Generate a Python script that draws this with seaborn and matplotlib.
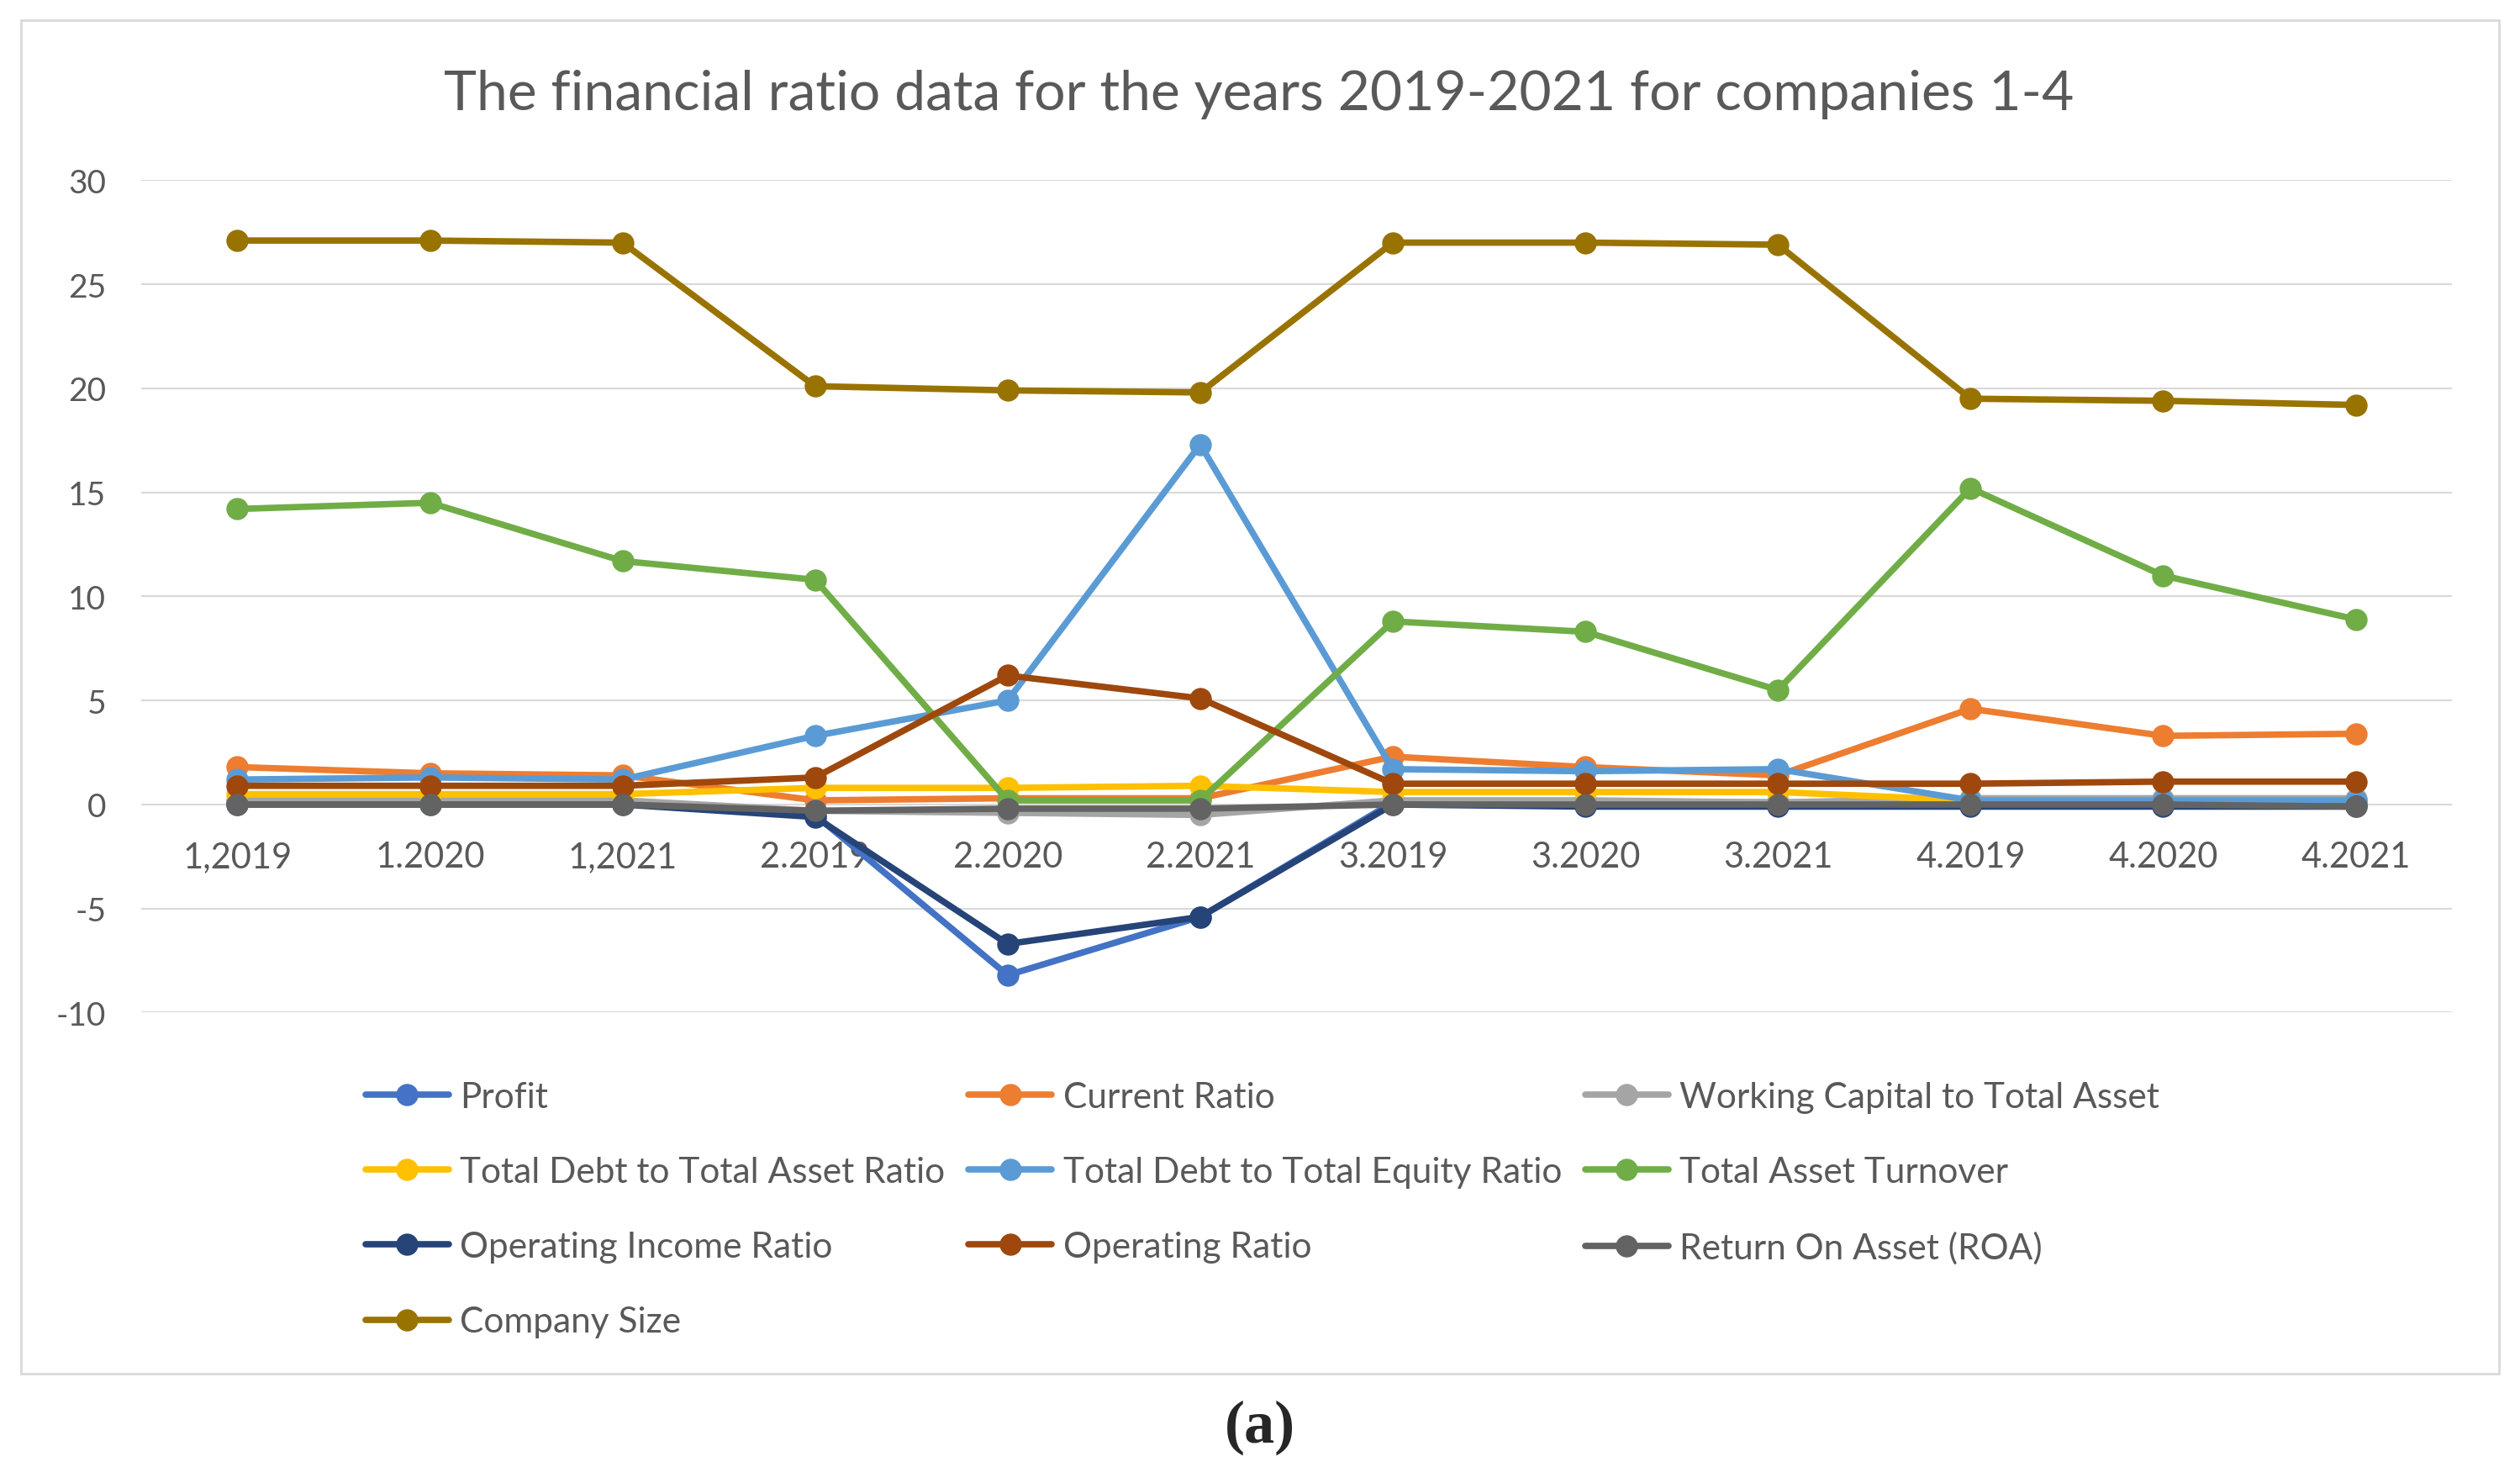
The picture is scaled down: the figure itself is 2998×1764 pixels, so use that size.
import numpy as np
import pandas as pd
import matplotlib
matplotlib.use("Agg")
import matplotlib.pyplot as plt
import seaborn as sns
from matplotlib.patches import Rectangle

# company.year labels along the x axis
periods = ["1,2019", "1.2020", "1,2021", "2.2019", "2.2020", "2.2021",
           "3.2019", "3.2020", "3.2021", "4.2019", "4.2020", "4.2021"]

profit = [0.1, 0.1, 0.1, -0.5, -8.2, -5.4, 0.1, 0.1, 0.1, 0.1, 0.1, 0.1]
current_ratio = [1.8, 1.5, 1.4, 0.2, 0.3, 0.3, 2.3, 1.8, 1.4, 4.6, 3.3, 3.4]
working_capital = [0.2, 0.2, 0.2, -0.3, -0.4, -0.5, 0.2, 0.2, 0.1, 0.3, 0.3, 0.3]
debt_to_asset = [0.5, 0.5, 0.5, 0.8, 0.8, 0.9, 0.6, 0.6, 0.6, 0.2, 0.2, 0.2]
debt_to_equity = [1.2, 1.3, 1.2, 3.3, 5.0, 17.3, 1.7, 1.6, 1.7, 0.2, 0.2, 0.2]
asset_turnover = [14.2, 14.5, 11.7, 10.8, 0.2, 0.2, 8.8, 8.3, 5.5, 15.2, 11.0, 8.9]
op_income_ratio = [0.0, 0.0, 0.0, -0.6, -6.7, -5.4, 0.0, -0.1, -0.1, -0.1, -0.1, -0.1]
operating_ratio = [0.9, 0.9, 0.9, 1.3, 6.2, 5.1, 1.0, 1.0, 1.0, 1.0, 1.1, 1.1]
roa = [0.0, 0.0, 0.0, -0.3, -0.2, -0.2, 0.0, 0.0, 0.0, 0.0, 0.0, -0.1]
company_size = [27.1, 27.1, 27.0, 20.1, 19.9, 19.8, 27.0, 27.0, 26.9, 19.5, 19.4, 19.2]

series_names = ["Profit", "Current Ratio", "Working Capital to Total Asset",
                "Total Debt to Total Asset Ratio", "Total Debt to Total Equity Ratio",
                "Total Asset Turnover", "Operating Income Ratio", "Operating Ratio",
                "Return On Asset (ROA)", "Company Size"]
series_values = [profit, current_ratio, working_capital, debt_to_asset, debt_to_equity,
                 asset_turnover, op_income_ratio, operating_ratio, roa, company_size]
colors = ["#4472C4", "#ED7D31", "#A5A5A5", "#FFC000", "#5B9BD5",
          "#70AD47", "#264478", "#9E480E", "#636363", "#997300"]

sns.set_style("white")
plt.rcParams["font.family"] = ["Lato", "DejaVu Sans"]
plt.rcParams["axes.unicode_minus"] = False

fig = plt.figure(figsize=(29.98, 17.65), dpi=100)
ax = fig.add_axes([0.056, 0.317, 0.917, 0.561])

x = np.arange(len(periods))
for name, vals, col in zip(series_names, series_values, colors):
    df = pd.DataFrame({"x": x, "y": vals})
    sns.lineplot(data=df, x="x", y="y", ax=ax, color=col, marker="o",
                 markersize=19, markeredgewidth=0, linewidth=5.5, label=name)

ax.set_xlim(-0.5, len(periods) - 0.5)
ax.set_ylim(-10, 30)
ax.set_yticks(range(-10, 31, 5))
ax.set_xticks(x)
ax.set_xticklabels(periods)
ax.set_xlabel("")
ax.set_ylabel("")
ax.yaxis.grid(True, color="#D9D9D9", linewidth=1.5)
ax.set_axisbelow(True)
for s in ["top", "right", "left"]:
    ax.spines[s].set_visible(False)
ax.spines["bottom"].set_position(("data", 0))
ax.spines["bottom"].set_visible(False)
ax.tick_params(axis="y", length=0, pad=30, labelsize=28, labelcolor="#595959")
ax.tick_params(axis="x", length=0, pad=31, labelsize=30, labelcolor="#595959")

fig.text(0.4995, 1 - 112 / 1765,
         "The financial ratio data for the years 2019-2021 for companies 1-4",
         ha="center", va="center", fontsize=47.5, color="#595959")

handles, labels = ax.get_legend_handles_labels()
ax.get_legend().remove()
order = [0, 3, 6, 9, 1, 4, 7, 2, 5, 8]
fig.legend([handles[i] for i in order], [labels[i] for i in order],
           loc="upper left", bbox_to_anchor=(0.145, 0.271), ncol=3,
           frameon=False, fontsize=30.5, labelcolor="#595959", handlelength=2.34,
           handletextpad=0.32, columnspacing=0.65, labelspacing=1.21,
           borderpad=0, borderaxespad=0)

# chart frame and panel label
fig.patches.append(Rectangle((25 / 2998, 1 - 1635 / 1765), 2948 / 2998, 1610 / 1765,
                             transform=fig.transFigure, fill=False,
                             edgecolor="#D9D9D9", linewidth=2))
fig.text(0.5, 1 - 1698 / 1765, "(a)", ha="center", va="center", fontsize=52,
         fontweight="bold", family="Liberation Serif")

fig.savefig("out.png", dpi=100, facecolor="white")
